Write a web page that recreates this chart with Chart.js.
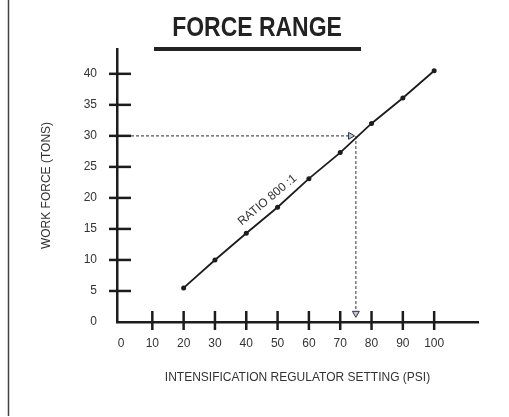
<!DOCTYPE html>
<html>
<head>
<meta charset="utf-8">
<script src="https://cdn.jsdelivr.net/npm/chart.js@4/dist/chart.umd.min.js"></script>
<style>
  html, body { margin: 0; padding: 0; background: #fff; }
  #wrap { width: 509px; height: 417px; position: relative; }
</style>
</head>
<body>
<div id="wrap"><canvas id="c" width="509" height="417"></canvas></div>
<script>
// ---- data ----
const psiValues = [20, 30, 40, 50, 60, 70, 80, 90, 100];
const forceTons = [5.5, 10, 14.3, 18.5, 23.1, 27.3, 32, 36.1, 40.5];
const xTickValues = [0, 10, 20, 30, 40, 50, 60, 70, 80, 90, 100];
const yTickValues = [0, 5, 10, 15, 20, 25, 30, 35, 40];
const refForce = 30;   // dashed reference: 30 tons
const refPsi = 75;     // read at 75 psi
const titleText = 'FORCE RANGE';
const xTitle = 'INTENSIFICATION REGULATOR SETTING (PSI)';
const yTitle = 'WORK FORCE (TONS)';
const ratioLabel = 'RATIO 800 :1';

const TEXT = '#333333';
const INK = '#1c1c1c';
const FONT = "'Liberation Sans', Arial, sans-serif";

const deco = {
  id: 'deco',
  afterDraw(chart) {
    const ctx = chart.ctx;
    const xs = chart.scales.x, ys = chart.scales.y;
    ctx.save();
    // page border on the left
    ctx.strokeStyle = '#444';
    ctx.lineWidth = 1.5;
    ctx.beginPath(); ctx.moveTo(8.5, 0); ctx.lineTo(8.5, 416); ctx.stroke();
    // condensed bold title
    ctx.save();
    ctx.translate(257, 36);
    ctx.scale(0.82, 1);
    ctx.fillStyle = '#222';
    ctx.font = 'bold 28px ' + FONT;
    ctx.textAlign = 'center';
    ctx.textBaseline = 'alphabetic';
    ctx.fillText(titleText, 0, 0);
    ctx.restore();
    // title underline
    ctx.fillStyle = '#222';
    ctx.fillRect(154, 47, 207, 4);
    // crossing tick marks
    ctx.strokeStyle = INK;
    ctx.lineWidth = 2.5;
    const ax = xs.left, ay = ys.bottom;
    yTickValues.forEach(v => {
      if (v === 0) return;
      const py = ys.getPixelForValue(v);
      ctx.beginPath(); ctx.moveTo(ax - 8, py); ctx.lineTo(ax + 14, py); ctx.stroke();
    });
    xTickValues.forEach(v => {
      if (v === 0) return;
      const px = xs.getPixelForValue(v);
      ctx.beginPath(); ctx.moveTo(px, ay - 11); ctx.lineTo(px, ay + 8); ctx.stroke();
    });
    // ratio label along the line
    const x1 = xs.getPixelForValue(psiValues[2]), y1 = ys.getPixelForValue(forceTons[2]);
    const x2 = xs.getPixelForValue(psiValues[3]), y2 = ys.getPixelForValue(forceTons[3]);
    const ang = Math.atan2(y2 - y1, x2 - x1);
    const t = 0.92;
    const mx = x1 + (x2 - x1) * t, my = y1 + (y2 - y1) * t;
    const nx = Math.sin(ang), ny = -Math.cos(ang);
    ctx.translate(mx + nx * 12, my + ny * 12);
    ctx.rotate(ang);
    ctx.fillStyle = TEXT;
    ctx.font = '12px ' + FONT;
    ctx.textAlign = 'center';
    ctx.textBaseline = 'middle';
    ctx.fillText(ratioLabel, 0, 0);
    ctx.restore();
  }
};

new Chart(document.getElementById('c'), {
  type: 'scatter',
  data: {
    datasets: [
      {
        data: psiValues.map((x, i) => ({x, y: forceTons[i]})),
        showLine: true,
        borderColor: INK,
        borderWidth: 1.8,
        pointRadius: 2.5,
        pointBackgroundColor: INK,
        pointBorderWidth: 0,
        tension: 0,
        order: 1
      },
      {
        data: [{x: 0, y: refForce}, {x: refPsi, y: refForce}, {x: refPsi, y: 1.4}],
        showLine: true,
        borderColor: '#555',
        borderWidth: 1.2,
        borderDash: [3, 2],
        pointRadius: 0,
        tension: 0,
        order: 3
      },
      {
        data: [{x: 73.3, y: refForce}],
        pointStyle: 'triangle',
        rotation: 90,
        pointRadius: 4,
        backgroundColor: '#b9c9e2',
        borderColor: '#333',
        borderWidth: 1,
        order: 2
      },
      {
        data: [{x: refPsi, y: 1.4}],
        pointStyle: 'triangle',
        rotation: 180,
        pointRadius: 4,
        backgroundColor: '#b9c9e2',
        borderColor: '#333',
        borderWidth: 1,
        order: 2
      }
    ]
  },
  options: {
    responsive: false,
    animation: false,
    events: [],
    layout: { padding: { left: 0, right: 31, top: 49, bottom: 0 } },
    plugins: {
      legend: { display: false },
      tooltip: { enabled: false },
      title: { display: false }
    },
    scales: {
      x: {
        type: 'linear',
        min: -1.28,
        max: 114,
        afterFit: s => { s.height = 95; },
        afterBuildTicks: s => { s.ticks = xTickValues.map(v => ({value: v})); },
        grid: { display: false, drawTicks: false },
        border: { display: true, color: INK, width: 2.5 },
        ticks: {
          autoSkip: false, maxRotation: 0, padding: 14,
          color: TEXT, font: { family: FONT, size: 12 },
          callback: v => String(v)
        },
        title: {
          display: true, text: xTitle, color: TEXT,
          font: { family: FONT, size: 12 },
          padding: { top: 0, bottom: 32 }
        }
      },
      y: {
        type: 'linear',
        min: 0,
        max: 44,
        afterFit: s => { s.width = 117; },
        afterBuildTicks: s => { s.ticks = yTickValues.map(v => ({value: v})); },
        grid: { display: false, drawTicks: false },
        border: { display: true, color: INK, width: 2.5 },
        ticks: {
          autoSkip: false, padding: 20,
          color: TEXT, font: { family: FONT, size: 12 },
          callback: v => String(v)
        },
        title: {
          display: true, text: yTitle, color: TEXT,
          font: { family: FONT, size: 12 },
          padding: { top: 39, bottom: 0 }
        }
      }
    }
  },
  plugins: [deco]
});
</script>
</body>
</html>
